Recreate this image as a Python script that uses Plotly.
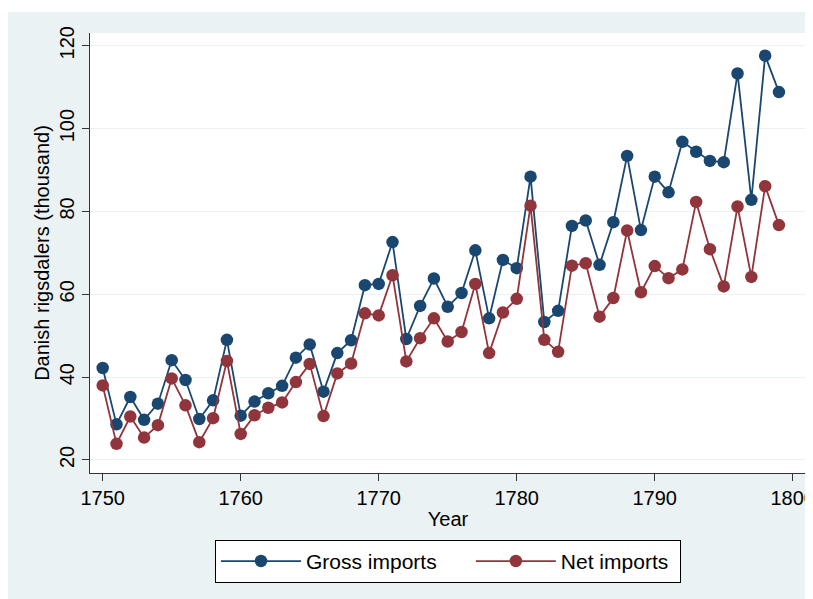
import plotly.graph_objects as go

years = list(range(1750, 1800))
gross_imports = [42.2, 28.6, 35.2, 29.7, 33.6, 44.1, 39.3, 29.9, 34.4, 49.0,
                 30.7, 34.1, 36.1, 37.9, 44.7, 47.9, 36.5, 45.8, 48.9, 62.2,
                 62.5, 72.6, 49.2, 57.2, 63.8, 57.0, 60.3, 70.6, 54.2, 68.3,
                 66.3, 88.4, 53.3, 56.0, 76.5, 77.8, 67.1, 77.4, 93.4, 75.5,
                 88.4, 84.6, 96.8, 94.4, 92.2, 91.9, 113.3, 82.8, 117.6, 108.8]
net_imports = [38.0, 23.9, 30.5, 25.4, 28.4, 39.7, 33.2, 24.3, 30.1, 43.9,
               26.3, 30.8, 32.6, 33.9, 38.8, 43.2, 30.6, 40.9, 43.3, 55.4,
               54.9, 64.6, 43.8, 49.4, 54.2, 48.6, 50.9, 62.5, 45.8, 55.6,
               58.9, 81.4, 49.0, 46.1, 66.9, 67.5, 54.6, 59.1, 75.4, 60.5,
               66.8, 63.9, 66.0, 82.3, 70.9, 61.9, 81.2, 64.2, 86.1, 76.7]
x_ticks = [1750, 1760, 1770, 1780, 1790, 1800]
y_ticks = [20, 40, 60, 80, 100, 120]
series_names = ["Gross imports", "Net imports"]

NAVY = "#1a476f"
MAROON = "#90353b"
BG = "#eaf2f3"
AX = "#333333"
FONT = "Liberation Sans, Arial, Helvetica, sans-serif"
NBSP = "\u00a0"

fig = go.Figure()
fig.add_trace(go.Scatter(x=years, y=gross_imports, mode="lines+markers",
                         name=series_names[0] + NBSP * 5,
                         line=dict(color=NAVY, width=1.8),
                         marker=dict(color=NAVY, size=12.5)))
fig.add_trace(go.Scatter(x=years, y=net_imports, mode="lines+markers",
                         name=series_names[1] + NBSP,
                         line=dict(color=MAROON, width=1.8),
                         marker=dict(color=MAROON, size=12.5)))

# white strip at the very top of the page
fig.add_shape(type="rect", xref="paper", yref="paper", x0=-0.2, x1=1.1,
              y0=1.0477, y1=1.2, fillcolor="white", line_width=0, layer="below")

fig.update_layout(
    width=805, height=591,
    margin=dict(l=82, r=7, t=25, b=126, autoexpand=False),
    paper_bgcolor=BG, plot_bgcolor="white",
    font=dict(family=FONT, size=20, color="black"),
    showlegend=True,
    legend=dict(orientation="h", x=0.5, xanchor="center", y=-0.152, yanchor="top",
                bgcolor="white", bordercolor="black", borderwidth=1,
                font=dict(size=21), itemwidth=80),
    xaxis=dict(range=[1749.08, 1800.96], tickvals=x_ticks, showgrid=False,
               showline=True, linecolor=AX, linewidth=1.2,
               ticks="outside", ticklen=7, tickcolor=AX, ticklabeloverflow="allow",
               tickfont=dict(size=20), zeroline=False, automargin=False,
               title=dict(text="Year", font=dict(size=20), standoff=3)),
    yaxis=dict(range=[16.86, 123.07], tickvals=y_ticks, showgrid=True,
               gridcolor=BG, gridwidth=1.2,
               showline=True, linecolor=AX, linewidth=1.2,
               ticks="outside", ticklen=7, tickcolor=AX,
               tickangle=-90, tickfont=dict(size=20), zeroline=False, automargin=False,
               title=dict(text="Danish rigsdalers (thousand)", font=dict(size=20), standoff=0)),
)

fig.write_html("out.html")
